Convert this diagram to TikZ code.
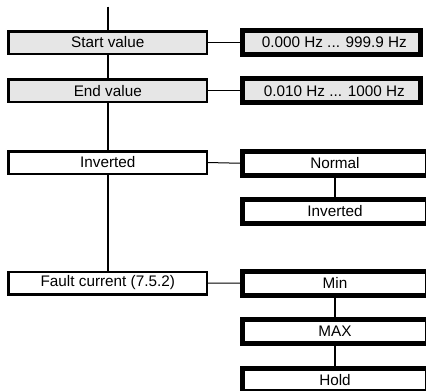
\documentclass[tikz,border=0pt]{standalone}
\usepackage{fontspec}
\setmainfont{Liberation Sans}
\definecolor{boxgray}{HTML}{E6E6E6}
\begin{document}
\begin{tikzpicture}[x=1pt,y=-1pt,
  every node/.style={font=\fontsize{15.3}{18}\selectfont, inner sep=0pt, outer sep=0pt},
  leftbox/.style={draw=black, line width=2.5pt, minimum width=198.5pt, minimum height=22.5pt},
  rightbox/.style={draw=black, line width=5pt, minimum height=23.7pt},
  topright/.style={rightbox, fill=boxgray, minimum width=177.7pt},
  lowright/.style={rightbox, fill=white, minimum width=185pt},
  thinline/.style={line width=1pt},
  mainline/.style={line width=2pt}]
\useasboundingbox (0,0) rectangle (426,391);
\coordinate (top) at (107.8,6.7);
% left column
\node[leftbox, fill=boxgray] (start) at (107.8,42.5) {Start value};
\node[leftbox, fill=boxgray] (endv) at (107.8,90.8) {End value};
\node[leftbox, fill=white] (inv) at (107.8,162.5) {Inverted};
\node[leftbox, fill=white] (fault) at (107.8,283) {Fault current (7.5.2)};
% right column
\node[topright] (startr) at (331.35,42.5) {\hspace*{6pt}0.000 Hz ... 999.9 Hz};
\node[topright] (endr) at (331.35,90.8) {\hspace*{6pt}0.010 Hz ... 1000 Hz};
\node[lowright] (normal) at (335,163.3) {Normal};
\node[lowright] (invr) at (335,211.3) {Inverted};
\node[lowright] (min) at (335,283.2) {Min};
\node[lowright] (max) at (335,331.5) {MAX};
\node[lowright] (hold) at (335,380) {Hold};
% connectors
\draw[thinline] (start.east) -- (startr.west);
\draw[thinline] (endv.east) -- (endr.west);
\draw[thinline] (inv.east) -- (normal.west);
\draw[thinline] (fault.east) -- (min.west);
\draw[mainline] (normal.south) -- (invr.north);
\draw[mainline] (min.south) -- (max.north);
\draw[mainline] (max.south) -- (hold.north);
\draw[mainline] (top) -- (start.north);
\draw[mainline] (start.south) -- (endv.north);
\draw[mainline] (endv.south) -- (inv.north);
\draw[mainline] (inv.south) -- (fault.north);
\end{tikzpicture}
\end{document}
